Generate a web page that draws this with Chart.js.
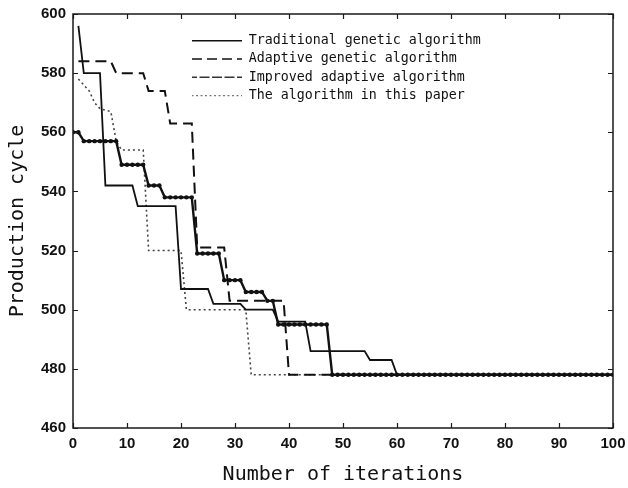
<!DOCTYPE html>
<html>
<head>
<meta charset="utf-8">
<script src="https://cdn.jsdelivr.net/npm/chart.js@4/dist/chart.umd.min.js"></script>
<style>
  html, body { margin: 0; padding: 0; background: #fff; }
  #c { display: block; }
</style>
</head>
<body>
<canvas id="c" width="628" height="488"></canvas>
<script>
// ---- data ----
const seriesNames = [
  'Traditional genetic algorithm',
  'Adaptive genetic algorithm',
  'Improved adaptive algorithm',
  'The algorithm in this paper'
];

// Traditional genetic algorithm (breakpoints: iteration, production cycle)
const traditionalIter   = [1, 2, 5, 6, 11, 12, 19, 20, 25, 26, 31, 32, 37, 38, 43, 44, 54, 55, 59, 60, 100];
const traditionalValues = [596, 580, 580, 542, 542, 535, 535, 507, 507, 502, 502, 500, 500, 496, 496, 486, 486, 483, 483, 478, 478];

// Adaptive genetic algorithm
const adaptiveIter   = [1, 7, 8, 13, 14, 17, 18, 22, 23, 28, 29, 39, 40, 100];
const adaptiveValues = [584, 584, 580, 580, 574, 574, 563, 563, 521, 521, 503, 503, 478, 478];

// Improved adaptive algorithm (one value per iteration 0..100)
const improvedValues = [
  560, 560, 557, 557, 557, 557, 557, 557, 557, 549,
  549, 549, 549, 549, 542, 542, 542, 538, 538, 538,
  538, 538, 538, 519, 519, 519, 519, 519, 510, 510,
  510, 510, 506, 506, 506, 506, 503, 503, 495, 495,
  495, 495, 495, 495, 495, 495, 495, 495, 478, 478,
  478, 478, 478, 478, 478, 478, 478, 478, 478, 478,
  478, 478, 478, 478, 478, 478, 478, 478, 478, 478,
  478, 478, 478, 478, 478, 478, 478, 478, 478, 478,
  478, 478, 478, 478, 478, 478, 478, 478, 478, 478,
  478, 478, 478, 478, 478, 478, 478, 478, 478, 478,
  478
];

// The algorithm in this paper
const paperIter   = [1, 2, 3, 4, 5, 7, 8, 9, 13, 14, 20, 21, 32, 33, 100];
const paperValues = [578, 576, 574, 570, 568, 567, 557, 554, 554, 520, 520, 500, 500, 478, 478];

// axis ticks
const xTicks = [0, 10, 20, 30, 40, 50, 60, 70, 80, 90, 100];
const yTicks = [460, 480, 500, 520, 540, 560, 580, 600];
const xTitle = 'Number of iterations';
const yTitle = 'Production cycle';

// ---- build ----
const pts = (xs, ys) => xs.map((x, i) => ({ x: x, y: ys[i] }));
const improvedPts = improvedValues.map((v, i) => ({ x: i, y: v }));

const monoFont = "'DejaVu Sans Mono', 'Liberation Mono', monospace";
const tickFont = { family: "'Liberation Sans', Arial, sans-serif", size: 15, weight: 'bold' };

const framePlugin = {
  id: 'frame',
  afterDatasetsDraw(chart) {
    const { ctx, chartArea: a, scales: { x, y } } = chart;
    ctx.save();
    ctx.strokeStyle = '#1a1a1a';
    ctx.lineWidth = 1.5;
    ctx.setLineDash([]);
    ctx.strokeRect(a.left, a.top, a.right - a.left, a.bottom - a.top);
    ctx.lineWidth = 1.2;
    ctx.beginPath();
    xTicks.forEach(v => {
      const px = Math.round(x.getPixelForValue(v)) + 0.5;
      ctx.moveTo(px, a.bottom); ctx.lineTo(px, a.bottom - 5);
      ctx.moveTo(px, a.top); ctx.lineTo(px, a.top + 5);
    });
    yTicks.forEach(v => {
      const py = Math.round(y.getPixelForValue(v)) + 0.5;
      ctx.moveTo(a.left, py); ctx.lineTo(a.left + 5, py);
      ctx.moveTo(a.right, py); ctx.lineTo(a.right - 5, py);
    });
    ctx.stroke();
    ctx.restore();
  }
};

const legendPlace = {
  id: 'legendPlace',
  afterLayout(chart) {
    const lg = chart.legend;
    if (!lg) return;
    const w = lg.width, h = lg.height;
    lg.left = 187; lg.top = 29; lg.right = 187 + w; lg.bottom = 29 + h;
  }
};

new Chart(document.getElementById('c'), {
  type: 'line',
  data: {
    datasets: [
      {
        label: seriesNames[0],
        data: pts(traditionalIter, traditionalValues),
        borderColor: '#111', backgroundColor: 'rgba(0,0,0,0)',
        borderWidth: 1.8, pointRadius: 0
      },
      {
        label: seriesNames[1],
        data: pts(adaptiveIter, adaptiveValues),
        borderColor: '#111', backgroundColor: 'rgba(0,0,0,0)',
        borderWidth: 2, borderDash: [11, 6], pointRadius: 0
      },
      {
        label: seriesNames[2],
        data: improvedPts,
        borderColor: '#111', backgroundColor: 'rgba(0,0,0,0)',
        borderWidth: 2.4, pointRadius: 2.2, pointBorderWidth: 0,
        pointBackgroundColor: '#111'
      },
      {
        label: seriesNames[3],
        data: pts(paperIter, paperValues),
        borderColor: '#444', backgroundColor: 'rgba(0,0,0,0)',
        borderWidth: 1.6, borderDash: [2, 3], pointRadius: 0
      }
    ]
  },
  options: {
    responsive: false,
    animation: false,
    events: [],
    layout: { padding: { top: 14, right: 15, left: 0, bottom: 0 } },
    elements: { line: { tension: 0, fill: false } },
    scales: {
      x: {
        type: 'linear', min: 0, max: 100,
        afterFit(s) { s.height = 60; s.paddingLeft = 0; s.paddingRight = 0; },
        afterBuildTicks(s) { s.ticks = xTicks.map(v => ({ value: v })); },
        grid: { display: false, drawTicks: false },
        border: { display: false },
        ticks: { color: '#111', font: tickFont, padding: 7, maxRotation: 0, autoSkip: false },
        title: {
          display: true, text: xTitle, color: '#111',
          font: { family: monoFont, size: 20 },
          padding: { top: 0, bottom: 1 }
        }
      },
      y: {
        type: 'linear', min: 460, max: 600,
        afterFit(s) { s.width = 73; s.paddingTop = 0; s.paddingBottom = 0; },
        afterBuildTicks(s) { s.ticks = yTicks.map(v => ({ value: v })); },
        grid: { display: false, drawTicks: false },
        border: { display: false },
        ticks: { color: '#111', font: tickFont, padding: 7, autoSkip: false },
        title: {
          display: true, text: yTitle, color: '#111',
          font: { family: monoFont, size: 20 },
          padding: { top: 6, bottom: 0 }
        }
      }
    },
    plugins: {
      tooltip: { enabled: false },
      legend: {
        position: 'chartArea',
        align: 'start',
        labels: {
          boxWidth: 50, boxHeight: 0, padding: 5,
          color: '#111',
          font: { family: monoFont, size: 13.3 },
          generateLabels(chart) {
            const items = Chart.defaults.plugins.legend.labels.generateLabels(chart);
            items.forEach((it, i) => {
              it.fillStyle = 'rgba(0,0,0,0)';
              if (i === 0) { it.lineWidth = 1.5; }
              if (i === 1) { it.lineDash = [9, 6]; it.lineWidth = 1.6; }
              if (i === 2) { it.lineDash = [5, 3, 1.5, 3]; it.lineWidth = 1.5; it.strokeStyle = '#333'; }
              if (i === 3) { it.lineDash = [1.5, 3]; it.lineWidth = 1.2; it.strokeStyle = '#777'; }
            });
            return items;
          }
        }
      }
    }
  },
  plugins: [framePlugin, legendPlace]
});
</script>
</body>
</html>
